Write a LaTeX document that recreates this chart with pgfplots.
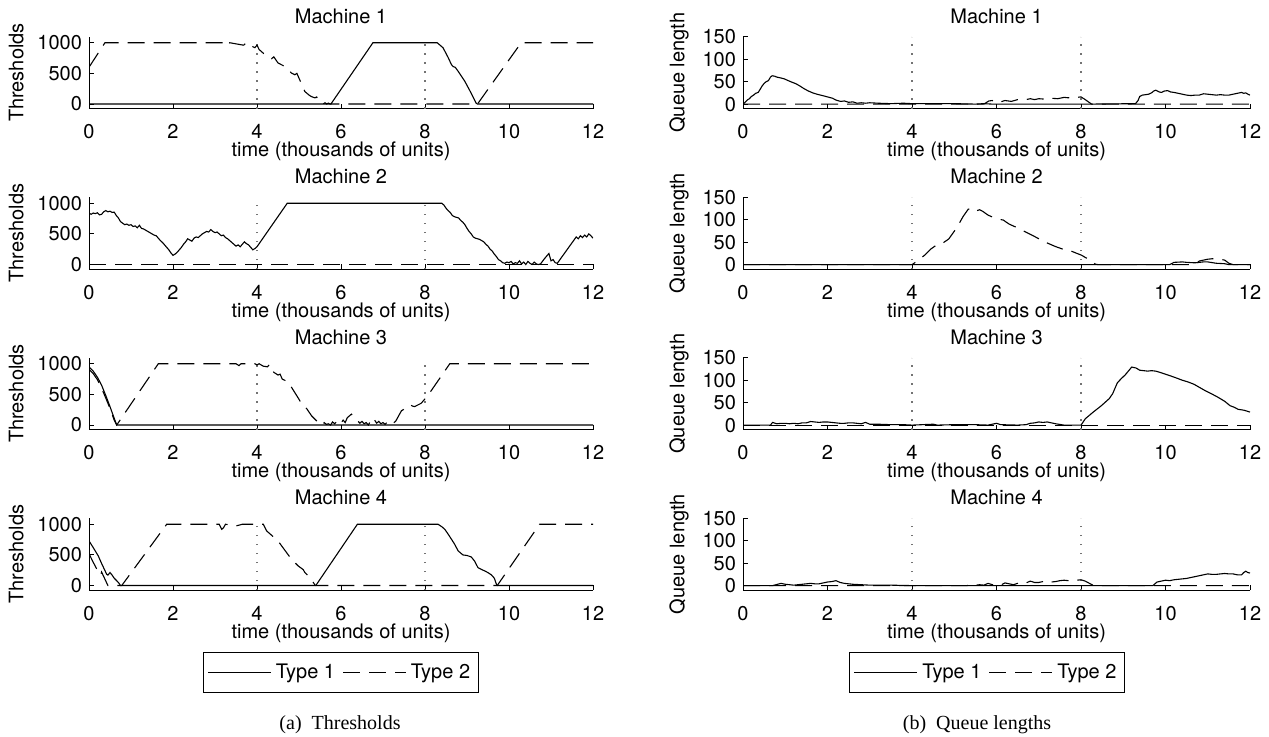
\documentclass[border=0pt]{standalone}
\usepackage{fontspec}
\setmainfont{TeX Gyre Heros}
\newfontfamily\capfont{Liberation Serif}
\usepackage{pgfplots}
\pgfplotsset{compat=1.18}

\pgfplotsset{
  panel/.style={
    scale only axis, height=36pt,
    xmin=0, xmax=12, xtick={0,2,...,12},
    axis x line*=bottom, axis y line*=left,
    axis line style={black, line width=0.5pt},
    tick align=inside, major tick length=2.5pt,
    tick style={black, line width=0.5pt},
    font=\fontsize{10}{12}\selectfont,
    tick label style={font=\fontsize{10}{12}\selectfont},
    xticklabel style={yshift=-4.5pt},
    title style={yshift=-3pt},
    /pgf/number format/assume math mode=true,
    /pgf/number format/1000 sep={},
    xlabel={time (thousands of units)},
    xlabel style={at={(axis description cs:0.5,0)}, anchor=center, yshift=-21.5pt},
    legend image code/.code={\draw[##1] (0pt,0pt) -- (31.5pt,0pt);},
  },
  thr/.style={panel, width=252pt, ymin=-75, ymax=1100, ytick={0,500,1000},
    ylabel={Thresholds}},
  que/.style={panel, width=253.5pt, ymin=-10, ymax=150, ytick={0,50,100,150},
    ylabel={Queue length}},
  t1/.style={black, line width=0.55pt},
  t2/.style={black, line width=0.55pt, dash pattern=on 8.5pt off 4.5pt},
  sep/.style={black!55, line width=0.6pt, dash pattern=on 0.6pt off 3.9pt, forget plot},
  leg/.style={legend columns=2,
    legend style={at={(#1,-0.861)}, anchor=north, draw=black, line width=0.5pt,
      inner xsep=2pt, inner ysep=4pt, font=\fontsize{10}{12}\selectfont,
      nodes={inner ysep=1.5pt, inner xsep=2.2pt},
      /tikz/every even column/.append style={column sep=1.5pt}}},
}

\begin{document}
\begin{tikzpicture}
\path[use as bounding box] (0,0) rectangle (634.5pt,-368pt);

% ---------- thresholds ----------
\begin{axis}[thr, at={(44.5pt,-54.3pt)}, title={Machine 1}]
\addplot[sep] coordinates {(4,-75)(4,1100)};
\addplot[sep] coordinates {(8,-75)(8,1100)};
\addplot[t1] coordinates {(0,0)(5.76,0)(6.76,1000)(8.29,1000)(8.43,918)(8.55,760)(8.63,643)(8.67,610)(8.72,600)(8.79,533)(8.95,368)(9.1,176)(9.22,11)(9.25,0)(12,0)};
\addplot[t2] coordinates {(0,600)(0.38,1000)(3.25,1000)(3.3,955)(3.35,1000)(3.68,960)(3.75,1000)(3.82,990)(3.9,935)(3.95,920)(4.0,960)(4.05,890)(4.23,780)(4.35,740)(4.4,770)(4.5,670)(4.7,600)(4.82,505)(4.9,478)(4.95,500)(5.14,203)(5.25,140)(5.3,120)(5.38,100)(5.42,115)(5.46,60)(5.57,0)(5.62,20)(5.66,0)(5.7,15)(5.74,0)(9.25,0)(10.29,1000)(12,1000)};
\end{axis}

\begin{axis}[thr, at={(44.5pt,-134.55pt)}, title={Machine 2}]
\addplot[sep] coordinates {(4,-75)(4,1100)};
\addplot[sep] coordinates {(8,-75)(8,1100)};
\addplot[t1] coordinates {(0,838)(0.05,820)(0.1,840)(0.15,830)(0.2,845)(0.25,810)(0.3,820)(0.35,860)(0.4,880)(0.45,860)(0.5,870)(0.55,850)(0.6,855)(0.65,800)(0.7,760)(0.75,700)(0.8,675)(0.85,650)(0.9,660)(0.95,640)(1.0,650)(1.05,620)(1.1,630)(1.15,600)(1.2,640)(1.25,590)(1.3,580)(1.35,560)(1.4,540)(1.45,520)(1.5,500)(1.55,480)(1.6,470)(1.65,430)(1.7,390)(1.75,360)(1.8,320)(1.85,280)(1.9,240)(1.95,190)(2.0,150)(2.05,170)(2.1,200)(2.15,240)(2.2,280)(2.25,330)(2.3,370)(2.35,420)(2.4,400)(2.45,380)(2.5,430)(2.55,450)(2.6,440)(2.65,470)(2.7,500)(2.75,520)(2.8,540)(2.85,530)(2.9,570)(2.95,540)(3.0,520)(3.05,530)(3.1,500)(3.15,470)(3.2,480)(3.25,440)(3.3,420)(3.35,390)(3.4,360)(3.45,330)(3.5,300)(3.55,320)(3.6,290)(3.65,330)(3.7,370)(3.75,340)(3.8,320)(3.85,280)(3.9,240)(3.95,260)(4.0,290)(4.72,1000)(8.4,1000)(8.45,970)(8.5,920)(8.55,880)(8.6,850)(8.65,800)(8.7,780)(8.75,770)(8.8,760)(8.85,720)(8.9,690)(8.95,650)(9.0,590)(9.05,540)(9.1,500)(9.15,450)(9.2,430)(9.3,410)(9.4,370)(9.45,330)(9.5,300)(9.55,250)(9.6,220)(9.65,170)(9.7,130)(9.75,80)(9.8,60)(9.85,30)(9.9,20)(9.95,40)(10.0,30)(10.05,50)(10.1,10)(10.15,30)(10.2,20)(10.25,60)(10.3,10)(10.35,40)(10.4,0)(10.45,50)(10.5,20)(10.55,0)(10.6,40)(10.65,10)(10.7,0)(10.75,10)(10.85,100)(10.95,180)(11.0,60)(11.05,80)(11.1,30)(11.15,20)(11.6,450)(11.65,420)(11.7,470)(11.75,440)(11.8,480)(11.85,450)(11.9,500)(11.95,470)(12,430)};
\addplot[t2] coordinates {(0,0)(12,0)};
\end{axis}

\begin{axis}[thr, at={(44.5pt,-214.8pt)}, title={Machine 3}]
\addplot[sep] coordinates {(4,-75)(4,1100)};
\addplot[sep] coordinates {(8,-75)(8,1100)};
\addplot[t1] coordinates {(0,950)(0.1,880)(0.2,780)(0.3,650)(0.4,480)(0.5,300)(0.6,110)(0.66,0)(12,0)};
\addplot[t2] coordinates {(0,910)(0.1,840)(0.2,740)(0.3,600)(0.4,440)(0.5,270)(0.6,80)(0.66,0)(1.65,1000)(3.5,1000)(3.57,970)(3.62,1000)(3.95,1000)(4.0,980)(4.05,1000)(4.15,960)(4.25,950)(4.3,990)(4.4,860)(4.5,816)(4.55,830)(4.6,750)(4.74,705)(5.0,420)(5.06,344)(5.12,290)(5.18,270)(5.3,150)(5.46,40)(5.5,30)(5.55,0)(5.6,40)(5.65,10)(5.7,20)(5.75,0)(5.8,50)(5.85,20)(5.9,60)(5.95,10)(6.0,30)(6.05,80)(6.1,40)(6.15,120)(6.25,178)(6.35,100)(6.45,30)(6.5,60)(6.55,20)(6.6,40)(6.65,0)(6.7,60)(6.75,20)(6.8,80)(6.85,30)(6.9,60)(6.95,20)(7.0,40)(7.05,10)(7.1,50)(7.15,20)(7.2,10)(7.3,60)(7.44,233)(7.6,300)(7.65,330)(7.7,310)(7.75,300)(7.91,355)(8.07,483)(8.59,1000)(12,1000)};
\end{axis}

\begin{axis}[thr, at={(44.5pt,-295.05pt)}, title={Machine 4}, leg=0.5]
\addplot[sep] coordinates {(4,-75)(4,1100)};
\addplot[sep] coordinates {(8,-75)(8,1100)};
\addplot[t1] coordinates {(0,728)(0.1,620)(0.22,484)(0.3,360)(0.42,185)(0.45,170)(0.5,212)(0.55,170)(0.6,120)(0.7,50)(0.75,0)(5.4,0)(6.39,1000)(8.31,1000)(8.4,960)(8.47,918)(8.55,840)(8.63,755)(8.7,680)(8.79,565)(8.85,530)(8.9,500)(9.0,490)(9.1,467)(9.18,400)(9.26,293)(9.35,260)(9.42,239)(9.5,210)(9.58,174)(9.65,120)(9.7,22)(9.72,0)(12,0)};
\addlegendentry{Type 1}
\addplot[t2] coordinates {(0,520)(0.1,380)(0.2,250)(0.28,170)(0.3,220)(0.45,0)(0.78,0)(1.85,1000)(3.1,1000)(3.16,918)(3.2,940)(3.25,1000)(3.5,973)(3.6,990)(3.65,1000)(4.15,1000)(4.23,891)(4.5,728)(4.82,429)(4.98,320)(5.1,260)(5.14,212)(5.26,130)(5.38,10)(5.4,0)(9.72,0)(10.73,1000)(12,1000)};
\addlegendentry{Type 2}
\end{axis}

% ---------- queue lengths ----------
\begin{axis}[que, at={(371.5pt,-54.3pt)}, title={Machine 1}]
\addplot[sep] coordinates {(4,-10)(4,150)};
\addplot[sep] coordinates {(8,-10)(8,150)};
\addplot[t1] coordinates {(0,0)(0.05,4)(0.1,9)(0.15,12)(0.2,17)(0.25,20)(0.3,24)(0.36,26)(0.4,32)(0.45,40)(0.5,46)(0.55,50)(0.6,52)(0.65,60)(0.69,63)(0.75,62)(0.8,60)(0.9,58)(0.98,56)(1.05,53)(1.15,49)(1.26,45)(1.35,40)(1.45,34)(1.55,29)(1.65,25)(1.75,22)(1.88,19)(2.0,16)(2.12,13)(2.2,9)(2.31,6)(2.4,7)(2.5,4)(2.6,5)(2.7,2)(2.8,3)(2.9,2)(3.0,3)(3.2,2)(3.5,1)(3.8,2)(4.0,1)(4.5,1)(5.0,1)(5.5,0)(5.7,1)(5.9,0)(8.2,0)(9.29,1)(9.35,8)(9.39,17)(9.45,20)(9.53,21)(9.6,22)(9.67,25)(9.72,29)(9.77,31)(9.85,27)(9.91,26)(9.97,29)(10.05,30)(10.12,27)(10.2,26)(10.3,24)(10.4,22)(10.5,20)(10.6,19)(10.7,20)(10.8,20)(10.9,23)(11.0,22)(11.1,21)(11.2,20)(11.3,21)(11.4,20)(11.5,20)(11.6,22)(11.7,24)(11.8,26)(11.85,24)(11.9,25)(11.95,22)(12,20)};
\addplot[t2] coordinates {(0,0)(5.7,0)(5.82,7)(5.9,8)(6.0,3)(6.1,5)(6.2,8)(6.35,6)(6.5,10)(6.65,9)(6.8,12)(6.9,10)(7.0,12)(7.15,11)(7.3,13)(7.45,12)(7.6,15)(7.7,14)(7.8,16)(7.9,15)(8.0,16)(8.1,10)(8.25,0)(12,0)};
\end{axis}

\begin{axis}[que, at={(371.5pt,-134.55pt)}, title={Machine 2}]
\addplot[sep] coordinates {(4,-10)(4,150)};
\addplot[sep] coordinates {(8,-10)(8,150)};
\addplot[t1] coordinates {(0,0)(10.1,0)(10.2,5)(10.4,6)(10.5,5)(10.7,4)(10.9,6)(11.0,6)(11.2,3)(11.4,2)(11.5,0)(12,0)};
\addplot[t2] coordinates {(0,0)(4.0,0)(4.11,7)(4.3,21)(4.45,35)(4.59,44)(4.7,46)(4.87,57)(5.06,82)(5.21,107)(5.33,123)(5.4,125)(5.45,120)(5.54,120)(5.6,122)(5.68,118)(5.8,110)(5.92,105)(6.05,101)(6.16,99)(6.3,90)(6.49,82)(6.7,72)(6.87,64)(7.05,55)(7.25,46)(7.4,40)(7.58,34)(7.7,31)(7.77,30)(7.9,25)(8.01,21)(8.1,16)(8.2,11)(8.34,1)(8.4,0)(10.7,0)(10.8,8)(10.9,10)(11.0,12)(11.1,13)(11.2,13)(11.3,12)(11.4,10)(11.5,3)(11.6,0)(12,0)};
\end{axis}

\begin{axis}[que, at={(371.5pt,-214.8pt)}, title={Machine 3}]
\addplot[sep] coordinates {(4,-10)(4,150)};
\addplot[sep] coordinates {(8,-10)(8,150)};
\addplot[t1] coordinates {(0,0)(0.65,0)(0.7,6)(0.8,3)(0.9,4)(1.0,4)(1.1,3)(1.2,4)(1.3,3)(1.4,5)(1.5,5)(1.6,8)(1.7,7)(1.8,6)(1.9,7)(2.0,7)(2.1,6)(2.2,5)(2.3,4)(2.4,4)(2.5,5)(2.6,5)(2.7,4)(2.8,3)(2.9,6)(3.0,2)(3.2,2)(3.5,1)(3.8,1)(4.0,0)(4.5,2)(4.6,0)(5.0,1)(5.5,1)(5.8,0)(6.0,4)(6.1,1)(6.5,0)(6.7,1)(6.8,4)(6.9,5)(7.0,7)(7.1,6)(7.2,7)(7.3,5)(7.4,3)(7.6,0)(8.0,0)(8.1,14)(8.29,29)(8.48,43)(8.67,59)(8.75,70)(8.86,94)(8.95,103)(9.05,112)(9.2,129)(9.3,127)(9.39,122)(9.48,121)(9.58,120)(9.67,121)(9.77,120)(9.91,116)(10.1,110)(10.25,105)(10.39,100)(10.53,96)(10.67,91)(10.8,84)(10.95,76)(11.1,69)(11.24,62)(11.4,53)(11.53,43)(11.62,40)(11.72,35)(11.8,34)(11.86,33)(11.93,31)(12,29)};
\addplot[t2] coordinates {(0,0)(12,0)};
\end{axis}

\begin{axis}[que, at={(371.5pt,-295.05pt)}, title={Machine 4}, leg=0.482]
\addplot[sep] coordinates {(4,-10)(4,150)};
\addplot[sep] coordinates {(8,-10)(8,150)};
\addplot[t1] coordinates {(0,0)(0.7,0)(0.9,5)(1.0,3)(1.2,1)(1.4,3)(1.5,4)(1.6,5)(1.7,4)(1.8,4)(1.9,6)(2.0,8)(2.1,9)(2.2,11)(2.3,7)(2.4,5)(2.5,4)(2.6,3)(2.8,2)(3.0,1)(3.5,1)(4.0,0)(9.7,0)(9.8,8)(9.9,10)(10.0,12)(10.1,11)(10.2,13)(10.3,14)(10.4,15)(10.5,16)(10.6,18)(10.7,20)(10.8,22)(10.9,24)(11.0,26)(11.1,25)(11.2,25)(11.3,26)(11.4,27)(11.5,26)(11.6,26)(11.7,24)(11.8,24)(11.85,29)(11.9,32)(11.95,29)(12,28)};
\addlegendentry{Type 1}
\addplot[t2] coordinates {(0,0)(5.3,0)(5.4,3)(5.5,1)(5.6,2)(5.7,1)(5.8,5)(5.9,2)(6.0,3)(6.1,1)(6.2,6)(6.3,4)(6.4,2)(6.5,5)(6.6,8)(6.7,6)(6.8,10)(6.9,7)(7.0,7)(7.1,9)(7.2,11)(7.3,8)(7.4,9)(7.5,11)(7.6,12)(7.7,11)(7.8,14)(7.9,12)(8.0,13)(8.1,10)(8.2,5)(8.3,0)(12,0)};
\addlegendentry{Type 2}
\end{axis}

\node[font=\capfont\fontsize{10}{12}\selectfont] at (170pt,-362.5pt) {(a)\hspace{0.5em}Thresholds};
\node[font=\capfont\fontsize{10}{12}\selectfont] at (488.5pt,-362.5pt) {(b)\hspace{0.5em}Queue lengths};
\end{tikzpicture}
\end{document}
